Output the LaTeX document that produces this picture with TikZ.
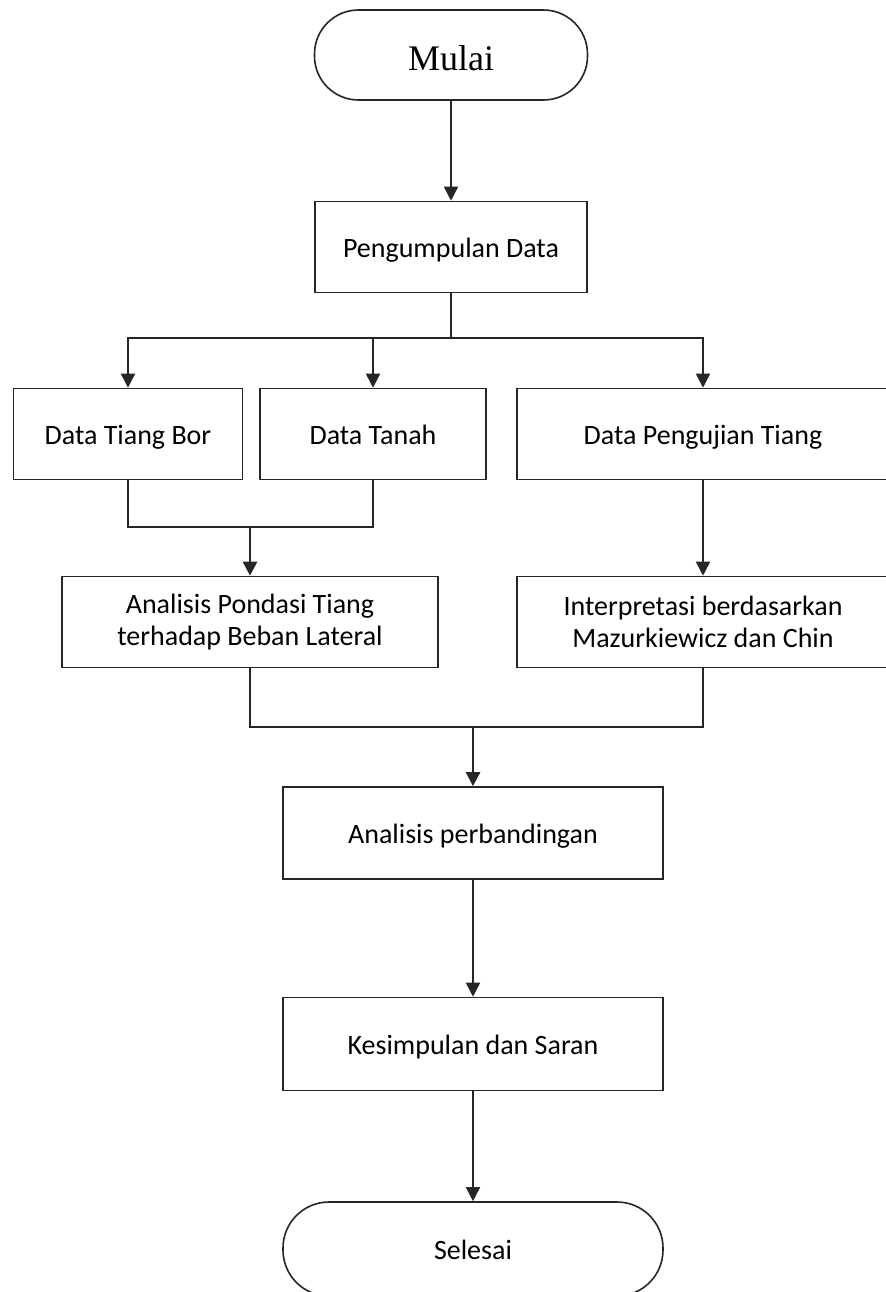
\documentclass[tikz,border=0pt]{standalone}
\usepackage{fontspec}
\setmainfont{Carlito}
\newfontfamily\titlefont{Liberation Serif}
\usetikzlibrary{arrows.meta}
\begin{document}
\begin{tikzpicture}
  [x=0.5pt,y=-0.5pt,
   every node/.style={draw=black!85,line width=0.8pt,align=center,
     font=\fontsize{14}{16}\selectfont,inner sep=0pt},
   box/.style={rectangle,minimum height=45.5pt},
   oneline/.style={text height=12.5pt,text depth=2pt},
   terminal/.style={rectangle,rounded corners=22pt,minimum height=46pt},
   line/.style={draw=black!85,line width=0.8pt},
   arr/.style={line,-{Triangle[length=7pt,width=7pt]}}]
  \clip (0,0) rectangle (886,1292);
  \node[terminal,oneline,text height=17pt,minimum width=136.5pt,minimum height=45pt,
    font=\titlefont\fontsize{18}{20}\selectfont] (mulai) at (451,55) {Mulai};
  \node[box,oneline,minimum width=136pt] (kumpul) at (451,247) {Pengumpulan Data};
  \node[box,oneline,minimum width=114.5pt] (bor) at (128,434) {Data Tiang Bor};
  \node[box,oneline,minimum width=113pt] (tanah) at (373,434) {Data Tanah};
  \node[box,oneline,minimum width=186pt] (uji) at (703,434) {Data Pengujian Tiang};
  \node[box,minimum width=188pt] (pondasi) at (250,622) {Analisis Pondasi Tiang\\terhadap Beban Lateral};
  \node[box,minimum width=186pt] (interp) at (703,622) {Interpretasi berdasarkan\\Mazurkiewicz dan Chin};
  \node[box,oneline,minimum width=190pt,minimum height=46pt] (banding) at (473,833) {Analisis perbandingan};
  \node[box,oneline,minimum width=190pt,minimum height=46.5pt] (simpul) at (473,1044) {Kesimpulan dan Saran};
  \node[terminal,oneline,minimum width=190pt,minimum height=47pt,rounded corners=23pt] (selesai) at (473,1249) {Selesai};
  \coordinate (split) at (451,338);
  \coordinate (join1) at (250,527);
  \coordinate (join2) at (473,727);
  \draw[arr] (mulai) -- (kumpul);
  \draw[line,line width=1.4pt] (kumpul) -- (split);
  \foreach \to in {bor,tanah,uji}
    \draw[arr] (split) -| (\to);
  \draw[line] (bor) |- (join1) -| (tanah);
  \draw[arr,line width=1.4pt] (join1) -- (pondasi);
  \draw[arr] (uji) -- (interp);
  \draw[line] (pondasi) |- (join2) -| (interp);
  \draw[arr,line width=1.2pt] (join2) -- (banding);
  \draw[arr] (banding) -- (simpul);
  \draw[arr] (simpul) -- (selesai);
\end{tikzpicture}
\end{document}
